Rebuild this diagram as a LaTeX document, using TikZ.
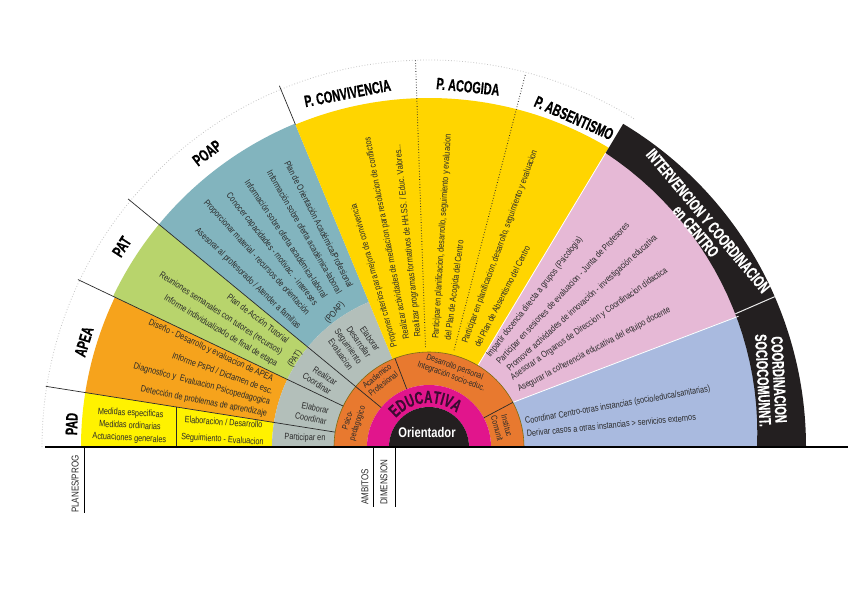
\documentclass[tikz,border=0pt]{standalone}
\usepackage{fontspec}
\setmainfont[FakeStretch=0.8]{Liberation Sans}
\newfontfamily\hdfont[FakeStretch=0.66, BoldFeatures={FakeBold=0.5}]{Liberation Sans}
\newfontfamily\ctrfont[FakeStretch=0.8]{Liberation Sans}
\usetikzlibrary{positioning,decorations.text}

\definecolor{padyel}{HTML}{FFF200}
\definecolor{apeaor}{HTML}{F6A31C}
\definecolor{patgr}{HTML}{B8D46C}
\definecolor{poapbl}{HTML}{82B4BE}
\definecolor{ambgr}{HTML}{B3BFBA}
\definecolor{progyel}{HTML}{FFD500}
\definecolor{centpk}{HTML}{E6B9D6}
\definecolor{comubl}{HTML}{A9BADF}
\definecolor{dimor}{HTML}{E8792F}
\definecolor{edumag}{HTML}{E1158C}
\definecolor{orblk}{HTML}{231F20}
\definecolor{ink}{HTML}{2A2A2A}
\definecolor{rim}{HTML}{7A6A10}
\definecolor{plum}{HTML}{3D0B32}

% annular piece: colour, from angle, to angle, inner radius, outer radius
\newcommand\ringpart[5]{%
  \fill[#1] (#2:#4pt) arc[start angle=#2, end angle=#3, radius=#4pt]
    -- (#3:#5pt) arc[start angle=#3, end angle=#2, radius=#5pt] -- cycle;}

\begin{document}
\begin{tikzpicture}[x=1pt, y=1pt,
  fan/.style={font=\fontsize{9.1}{11}\selectfont, text=ink, inner sep=0pt},
  dimt/.style={font=\fontsize{8.6}{10}\selectfont, text=ink, inner sep=0pt},
  sub/.style={font=\fontsize{10}{11}\selectfont, text=ink, inner sep=0pt},
  hd/.style={font=\hdfont\bfseries\fontsize{16.5}{16}\selectfont, inner sep=0pt},
  dv/.style={draw=ink, line width=0.7pt}]
\fill[white] (-429,-153) rectangle (419,447);
\useasboundingbox (-429,-153) rectangle (419,447);

% dotted outer rim
\draw[gray!45, dotted, line width=0.8pt] (180:387pt) arc[start angle=180, end angle=58, radius=387pt];

% plans / programs
\ringpart{padyel}{171}{180}{157}{348}
\ringpart{apeaor}{154.5}{171}{157}{348}
\ringpart{patgr}{140.5}{154.5}{157}{350}
\ringpart{poapbl}{112.5}{140.5}{157}{350}
\ringpart{ambgr}{112.5}{180}{95}{157}
\ringpart{progyel}{59}{112.5}{95}{349}

% centre and community
\fill[centpk] (28:95pt) -- (22.9:345pt) arc[start angle=22.9, end angle=59, radius=345pt]
  -- (59:95pt) arc[start angle=59, end angle=28, radius=95pt] -- cycle;
\fill[comubl] (0:95pt) -- (0:345pt) arc[start angle=0, end angle=22.9, radius=345pt]
  -- (28:95pt) arc[start angle=28, end angle=0, radius=95pt] -- cycle;
\fill[orblk] (0:377pt) arc[start angle=0, end angle=59, radius=377pt]
  -- plot[domain=59:0, samples=25] (\x:{328+15*\x/59}) -- cycle;
\draw[white!85!gray, line width=1pt] (23.5:334pt) -- (23.5:377pt);
\draw[white, line width=0.8pt] (28:95pt) -- (22.9:336pt);
\draw[white, line width=0.8pt] (59:95pt) -- (59:343pt);

% dimension ring, educativa, orientador
\ringpart{dimor}{0}{180}{62}{95}
\draw[rim, line width=0.6pt] (0:95pt) arc[start angle=0, end angle=180, radius=95pt];
\ringpart{edumag}{0}{180}{40}{62}
\fill[orblk] (0:40pt) arc[start angle=0, end angle=180, radius=40pt] -- cycle;

% dividers
\draw[dv] (171:95pt) -- (171:388pt);
\draw[dv] (154.5:95pt) -- (154.5:389pt);
\draw[dv] (140.5:62pt) -- (140.5:390pt);
\draw[dv] (112.5:349pt) -- (112.5:391pt);
\draw[dv] (111:62pt) -- (111:95pt);
\draw[dv] (28:62pt) -- (28:95pt);
\draw[dv, dotted, line width=0.9pt] (92:100pt) -- (92:388pt);
\draw[dv, dotted, line width=0.9pt] (75.5:100pt) -- (75.5:386pt);
\draw[dv] (-252.3,0) -- (-252.3,40);

% PAD
\node[fan, rotate=-3, align=center, font=\fontsize{9.1}{12.5}\selectfont] (padA) at (-299,21)
  {Medidas especificas\\Medidas ordinarias\\Actuaciones generales};
\node[fan, rotate=-4, align=center, font=\fontsize{9.1}{17}\selectfont] (padB) at (-206,15.5)
  {Elaboracion / Desarrollo\\Seguimiento - Evaluacion};

% APEA
\node[fan, rotate=-25, anchor=east] (apea1) at (-156,67) {Diseño - Desarrollo y evaluacion de APEA};
\node[fan, rotate=-20, anchor=east] (apea2) at (-156,55.5) {Informe PsPd / Dictamen de esc.};
\node[fan, rotate=-15, anchor=east] (apea3) at (-159,44.3) {Diagnostico y\ \ Evaluacion Psicopedagogica};
\node[fan, rotate=-11, anchor=east] (apea4) at (-162,33) {Detección de problemas de aprendizaje};

% PAT
\node[fan, rotate=-37, anchor=east] (pat1) at (-141,106) {Plan de Acción Tutorial};
\node[fan, rotate=-33, anchor=east] (pat2) at (-147.3,93.7) {Reuniones semanales con tutores (recursos)};
\node[fan, rotate=-31, anchor=east] (pat3) at (-152.3,82) {Informe individualizado de final de etapa};
\node[fan, rotate=55] (patTag) at (-134,88) {(PAT)};

% POAP
\node[fan, rotate=-63, anchor=east] (poap1) at (-78,160) {Plan de Orientación Académica/Profesional};
\node[fan, rotate=-60, anchor=east] (poap2) at (-89.2,154) {Información sobre oferta académica-laboral};
\node[fan, rotate=-56, anchor=east] (poap3) at (-103.3,149.8) {Información sobre oferta académica-laboral};
\node[fan, rotate=-51.5, anchor=east] (poap4) at (-113.3,142.4) {Conocer capacidades - motivac. - intereses};
\node[fan, rotate=-47.5, anchor=east] (poap5) at (-121.1,133.2) {Proporcionar material - recursos de orientación};
\node[fan, rotate=-43.7, anchor=east] (poap6) at (-129.6,119.1) {Asesorar al profesorado / Atender a familias};
\node[fan, rotate=50] (poapTag) at (-94.1,134.3) {(POAP)};

% ambitos ring
\node[fan, rotate=-2] (amb1) at (-124,9) {Participar en};
\node[fan, rotate=-12, align=right] (amb2) at (-117,34) {Elaborar\\Coordinar};
\node[fan, rotate=-33, align=right] (amb3) at (-109,68) {Realizar\\Coordinar};
\node[fan, rotate=-55, align=right] (amb4) at (-76,104) {Elaborar\\Desarrollar\\Seguimiento\\Evaluacion};

% dimension ring
\node[dimt, rotate=72, align=center] (dim1) at (-76,25) {Psico-\\pedagogico};
\node[dimt, rotate=38, align=center] (dim2) at (-49,67) {Academico\\Profesional};
\node[dimt, rotate=-20, align=center] (dim3) at (24,75) {Desarrollo personal\\Integración socio-educ.};
\node[dimt, rotate=-75, align=center] (dim4) at (73,20) {Instituc\\Comunit};

% programas
\node[fan, rotate=106, anchor=west] (conv1) at (-34,100) {Proponer criterios para mejora de convivencia};
\node[fan, rotate=101, anchor=west] (conv2) at (-22,108) {Realizar actividades de mediacion para resolucion de conflictos};
\node[fan, rotate=96, anchor=west] (conv3) at (-10.7,110.3) {Realizar programas formativos de HH.SS. / Educ. Valores...};
\node[fan, rotate=86.5, anchor=west] (acog1) at (7,108) {Participar en planificacion, desarrollo, seguimiento y evaluacion};
\node[fan, rotate=82.5, anchor=west] (acog2) at (19.3,107) {del Plan de Acogida del Centro};
\node[fan, rotate=70, anchor=west] (abs1) at (36,103.7) {Participar en planificacion, desarrollo, seguimiento y evaluacion};
\node[fan, rotate=63, anchor=west] (abs2) at (47.7,100.3) {del Plan de Absentismo del Centro};

% centro
\node[fan, rotate=52, anchor=west] (cent1) at (59.3,90.3) {Impartir docencia directa a grupos (Psicologia)};
\node[fan, rotate=47, anchor=west] (cent2) at (69.3,83.7) {Participar en sesiones de evaluacion - Junta de Profesores};
\node[fan, rotate=42, anchor=west] (cent3) at (79.3,77) {Promover actividades de innovación - investigación educativa};
\node[fan, rotate=35, anchor=west] (cent4) at (82.7,68.7) {Asesorar a Organos de Direccion y Coordinacion didactica};
\node[fan, rotate=28, anchor=west] (cent5) at (89.3,57) {Asegurar la coherencia educativa del equipo docente};

% sociocomunitaria
\node[fan, rotate=10, anchor=west] (soc1) at (96,25.3) {Coordinar Centro-otras instancias (socio/educa/sanitarias)};
\node[fan, rotate=5.5, anchor=west] (soc2) at (97.7,13.7) {Derivar casos a otras instancias > servicios externos};

% headings in the outer band
\node[hd, rotate=88] (padH) at (-357.3,23) {PAD};
\node[hd, rotate=73] (apeaH) at (-345,105.3) {APEA};
\node[hd, rotate=57] (patH) at (-307.3,200.3) {PAT};
\node[hd, rotate=37] (poapH) at (-222,294) {POAP};
\node[hd, rotate=11] (convH) at (-81.5,353.7) {P. CONVIVENCIA};
\node[hd, rotate=-6] (acogH) at (39,360.3) {P. ACOGIDA};
\node[hd, rotate=-24] (absH) at (145,329) {P. ABSENTISMO};
\node[hd, text=white, rotate=-50, align=center] (centH) at (273,221) {INTERVENCION Y COORDINACION\\en CENTRO};
\node[hd, text=white, rotate=-87, align=center] (socH) at (342,67) {COORDINACION\\SOCIOCOMUNNT.};

% centre labels
\path[decorate, decoration={text along path, text align=center, text color=plum,
  text={|\hdfont\bfseries\fontsize{17.5}{17}\selectfont|EDUCATIVA}}]
  (168:44pt) arc[start angle=168, end angle=22, radius=44pt];
\node[font=\ctrfont\bfseries\fontsize{14}{14}\selectfont, text=white, inner sep=0pt] (orient) at (-2,15) {Orientador};

% base line and lower labels
\draw[line width=1.8pt] (-384,0) -- (419,0);
\draw[line width=0.8pt] (-345,0) -- (-345,-66);
\draw[line width=0.8pt] (-55.7,0) -- (-55.7,-60);
\draw[line width=0.8pt] (-34,0) -- (-34,-60);
\node[sub, rotate=90, anchor=west] (planes) at (-354,-66) {PLANES/PROG};
\node[sub, rotate=90, anchor=west] (ambitos) at (-64,-58) {AMBITOS};
\node[sub, rotate=90, anchor=west] (dimension) at (-45,-58) {DIMENSION};
\end{tikzpicture}
\end{document}
